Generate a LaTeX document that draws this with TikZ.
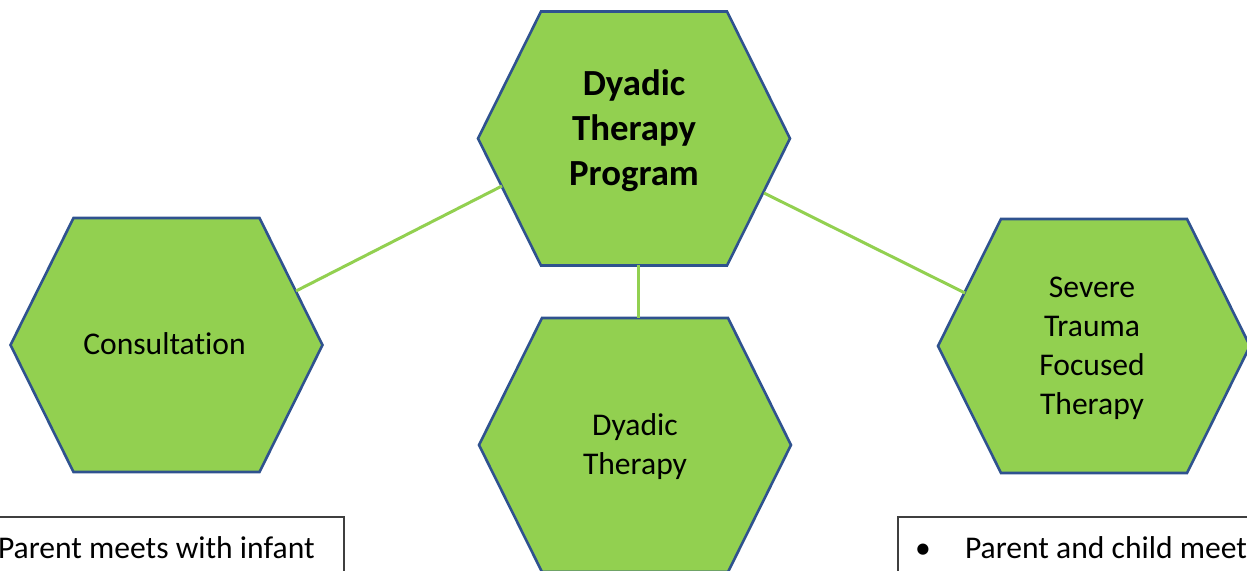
\documentclass[tikz,border=0pt]{standalone}
\usepackage{fontspec}
\setmainfont[Ligatures={NoCommon}]{Carlito}
\usepackage{tikz}
\usetikzlibrary{positioning}
\definecolor{leaf}{HTML}{92D050}
\definecolor{rim}{HTML}{2F528F}
\definecolor{ink}{HTML}{000000}
\definecolor{frame}{HTML}{3F3F3F}
\tikzset{
  hexa/.style    = {fill=leaf, draw=rim, line width=1.3pt, line join=miter},
  link/.style    = {draw=leaf, line width=1.5pt},
  box/.style     = {draw=frame, line width=0.6pt},
  hexlab/.style  = {font=\fontsize{15.8}{19.5}\selectfont\color{ink}, align=center, inner sep=0pt, outer sep=0pt},
  hexhead/.style = {font=\fontsize{18.4}{22.5}\selectfont\bfseries\color{ink}, align=center, inner sep=0pt, outer sep=0pt},
  note/.style    = {font=\fontsize{15.8}{19.5}\selectfont\color{ink}, inner sep=0pt, outer sep=0pt},
}
\begin{document}
\begin{tikzpicture}[x=0.5pt,y=-0.5pt]
\path[use as bounding box] (0,0) rectangle (1247,571);
\clip (0,0) rectangle (1247,571);

% ---- the hexagons -------------------------------------------------------
\foreach \cx/\cy in {634/138.5, 166.5/345, 635/445, 1094/346}{%
  \draw[hexa] (\cx-93,\cy-127) -- (\cx+93,\cy-127) -- (\cx+156,\cy)
    -- (\cx+93,\cy+127) -- (\cx-93,\cy+127) -- (\cx-156,\cy) -- cycle;
}
\node[hexhead] (prog)    at (634,131)     {Dyadic\\Therapy\\Program};
\node[hexlab]  (consult) at (164.5,344)   {Consultation};
\node[hexlab]  (dyad)    at (635,446.5)   {Dyadic\\Therapy};
\node[hexlab]  (trauma)  at (1092,348.5)  {Severe\\Trauma\\Focused\\Therapy};

% ---- the links ----------------------------------------------------------
\coordinate (progsw)    at (502,186);
\coordinate (progse)    at (764,193);
\coordinate (progs)     at (638,265.5);
\coordinate (consultne) at (296,291);
\coordinate (traumanw)  at (965,293);
\coordinate (dyadn)     at (638,318);
\draw[link] (progsw) -- (consultne);
\draw[link] (progse) -- (traumanw);
\draw[link] (progs)  -- (dyadn);

% ---- the notes below ----------------------------------------------------
\draw[box] (-20,517) rectangle (344,620);
\node[note, anchor=base west] (infant) at (-2,558) {Parent meets with infant};
\draw[box] (898,517) rectangle (1280,620);
\node[note, anchor=base] (dot) at (923,558) {•};
\node[note, anchor=base west] (child) at (965,558) {Parent and child meet};

\end{tikzpicture}
\end{document}
